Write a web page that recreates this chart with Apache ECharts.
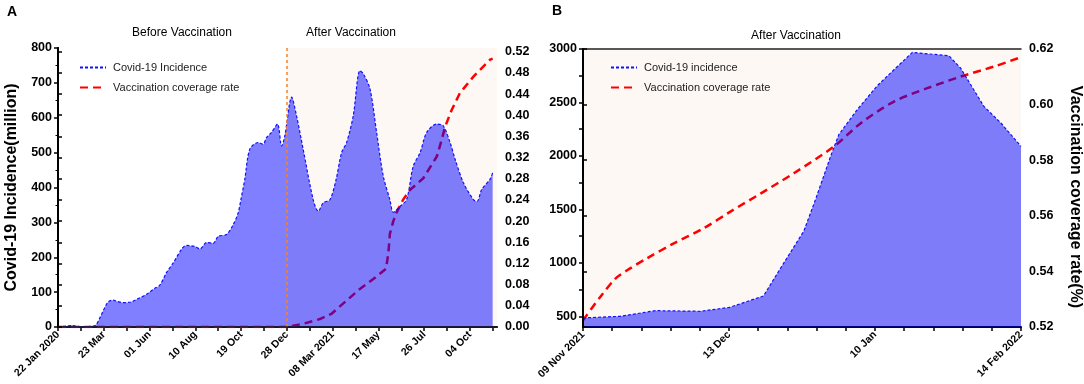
<!DOCTYPE html>
<html>
<head>
<meta charset="utf-8">
<script src="https://cdn.jsdelivr.net/npm/echarts@6/dist/echarts.min.js"></script>
<style>
  html, body { margin: 0; padding: 0; background: #fff; }
  #chart { width: 1084px; height: 384px; }
</style>
</head>
<body>
<div id="chart"></div>
<script>
// x positions are in tick units (one tick on each date axis = 1)
const tickPosA = [0, 2, 4, 6, 8, 10, 12, 14, 16, 18];
const tickLabelsA = ['22 Jan 2020', '23 Mar', '01 Jun', '10 Aug', '19 Oct', '28 Dec', '08 Mar 2021', '17 May', '26 Jul', '04 Oct'];
const tickAllA = [0, 1, 2, 3, 4, 5, 6, 7, 8, 9, 10, 11, 12, 13, 14, 15, 16, 17, 18, 19];
const tickPosB = [0, 5, 10, 15];
const tickLabelsB = ['09 Nov 2021', '13 Dec', '10 Jan', '14 Feb 2022'];
const tickAllB = [0, 1, 2, 3, 4, 5, 6, 7, 8, 9, 10, 11, 12, 13, 14, 15];

const rightTicksA = [0, 0.04, 0.08, 0.12, 0.16, 0.2, 0.24, 0.28, 0.32, 0.36, 0.4, 0.44, 0.48, 0.52];
const leftLabelsB = [500, 1000, 1500, 2000, 2500, 3000];
const leftTicksB = [500, 750, 1000, 1250, 1500, 1750, 2000, 2250, 2500, 2750, 3000];

// panel A
const incidenceAX = [0, 0.29, 0.6, 0.86, 1.17, 1.47, 1.65, 1.82, 2.0, 2.19, 2.4, 2.61, 2.84, 3.13, 3.43, 3.87, 4.23, 4.45, 4.74, 5.03, 5.4, 5.61, 5.98, 6.2, 6.49, 6.78, 7.0, 7.36, 7.65, 7.87, 7.99, 8.16, 8.38, 8.75, 8.96, 9.11, 9.33, 9.59, 9.77, 9.91, 10.21, 10.42, 10.71, 11.15, 11.37, 11.59, 11.88, 12.14, 12.39, 12.61, 12.9, 13.19, 13.34, 13.63, 13.92, 14.21, 14.5, 14.65, 14.94, 15.23, 15.52, 15.82, 16.11, 16.55, 16.83, 17.13, 17.35, 17.71, 18.15, 18.31, 18.51, 18.87, 18.99];
const incidenceAY = [0, 2, 4, 2, 1, 2, 5, 25, 50, 72, 77, 73, 70, 71, 79, 94, 111, 120, 156, 183, 223, 234, 231, 224, 242, 240, 260, 265, 293, 327, 365, 423, 510, 529, 524, 543, 558, 582, 519, 548, 659, 606, 510, 365, 332, 356, 365, 420, 500, 529, 606, 735, 726, 683, 558, 433, 365, 329, 346, 365, 461, 500, 558, 582, 577, 529, 481, 414, 365, 360, 394, 423, 442];
const vaccinationAX = [0, 10, 10.71, 11.44, 11.95, 12.61, 13.19, 13.85, 14.33, 14.43, 14.5, 14.65, 14.8, 15.07, 15.38, 15.96, 16.55, 16.76, 16.91, 17.2, 17.56, 18.15, 18.88, 18.99];
const vaccinationAY = [0, 0, 0.006, 0.015, 0.025, 0.05, 0.072, 0.093, 0.11, 0.138, 0.176, 0.2, 0.217, 0.24, 0.259, 0.281, 0.322, 0.353, 0.378, 0.41, 0.442, 0.473, 0.505, 0.507];

// panel B
const incidenceBX = [0, 1.28, 2.48, 4.02, 5.01, 6.18, 6.88, 7.56, 7.96, 8.48, 8.76, 9.39, 10.08, 10.65, 11.28, 12.53, 12.93, 13.73, 14.31, 15];
const incidenceBY = [485, 500, 553, 547, 583, 690, 1000, 1295, 1590, 1996, 2199, 2432, 2657, 2806, 2968, 2937, 2822, 2463, 2308, 2089];
const vaccinationBX = [0, 0.59, 1.11, 1.51, 2.19, 3.11, 4.13, 5.05, 6.08, 7.22, 8.59, 9.51, 10.65, 11.79, 12.94, 14.08, 14.93];
const vaccinationBY = [0.5224, 0.5308, 0.5374, 0.5404, 0.5447, 0.5501, 0.5555, 0.5615, 0.568, 0.5753, 0.5849, 0.5933, 0.6011, 0.6059, 0.6101, 0.6137, 0.6168];

const zip = (xs, ys) => xs.map((x, i) => [x, ys[i]]);

const FONT = 'Liberation Sans, Arial, sans-serif';
const CREAM = '#fdf8f3';
const incidenceLine = { color: '#1010ff', width: 1.2, type: [3, 2] };
const incidenceArea = { color: 'rgba(0, 0, 255, 0.5)', opacity: 1 };
const vaccLine = { color: '#ff0000', width: 2.5, type: [8, 5] };

function bottomAxis(grid, max, ticks, labelPos, labels) {
  return {
    gridIndex: grid, type: 'value', min: 0, max: max, z: 2,
    axisLine: { lineStyle: { color: '#000', width: 2 } },
    axisTick: { customValues: ticks, length: 4, lineStyle: { color: '#000', width: 1.5 } },
    axisLabel: {
      customValues: labelPos, rotate: 45, margin: 6,
      fontFamily: FONT, fontWeight: 'bold', fontSize: 10.5, color: '#000',
      formatter: v => labels[labelPos.indexOf(v)] || ''
    },
    splitLine: { show: false }
  };
}

function topAxis(grid, max) {
  return {
    gridIndex: grid, type: 'value', position: 'top', min: 0, max: max, z: 5,
    axisLine: { lineStyle: { color: '#222', width: 1.5 } },
    axisTick: { show: false }, axisLabel: { show: false }, splitLine: { show: false }
  };
}

function legendAt(left, names) {
  return {
    left: left, top: 57, orient: 'vertical', itemWidth: 26, itemHeight: 10, itemGap: 9,
    data: names,
    itemStyle: { opacity: 0 },
    textStyle: { fontFamily: FONT, fontSize: 11, color: '#222', padding: [0, 0, 0, 2] }
  };
}

const labelStyle = { fontFamily: FONT, fontWeight: 'bold', fontSize: 12.5, color: '#000' };
const nameStyle = { fontFamily: FONT, fontWeight: 'bold', fontSize: 16, color: '#000' };

const option = {
  animation: false,
  backgroundColor: '#fff',
  grid: [
    { left: 58, right: 587, top: 48, bottom: 57 },
    { left: 583, right: 63, top: 49, bottom: 57 }
  ],
  legend: [
    legendAt(74, ['Covid-19 Incidence', 'Vaccination coverage rate']),
    legendAt(605, ['Covid-19 incidence', 'Vaccination coverage rate'])
  ],
  xAxis: [
    bottomAxis(0, 19.18, tickAllA, tickPosA, tickLabelsA),
    topAxis(0, 19.18),
    bottomAxis(1, 15, tickAllB, tickPosB, tickLabelsB),
    topAxis(1, 15)
  ],
  yAxis: [
    {
      gridIndex: 0, type: 'value', position: 'left', min: 0, max: 800, interval: 100, z: 5,
      axisLine: { show: true, lineStyle: { color: '#000', width: 2 } },
      axisTick: { show: true, length: 4, lineStyle: { color: '#000', width: 1.5 } },
      minorTick: { show: true, splitNumber: 2, length: 2.5, lineStyle: { color: '#000', width: 1 } },
      axisLabel: Object.assign({ margin: 6 }, labelStyle),
      splitLine: { show: false },
      name: 'Covid-19 Incidence(million)', nameLocation: 'middle', nameGap: 38,
      nameTextStyle: nameStyle
    },
    {
      gridIndex: 0, type: 'value', position: 'right', min: 0, max: 0.527, z: 5,
      axisLine: { show: true, lineStyle: { color: '#000', width: 2 } },
      axisTick: { show: true, customValues: rightTicksA, length: 4, lineStyle: { color: '#000', width: 1.5 } },
      axisLabel: Object.assign({ margin: 8, customValues: rightTicksA, formatter: v => v.toFixed(2) }, labelStyle),
      splitLine: { show: false }
    },
    {
      gridIndex: 1, type: 'value', position: 'left', min: 400, max: 3000, z: 5,
      axisLine: { show: true, lineStyle: { color: '#000', width: 2 } },
      axisTick: { show: true, customValues: leftTicksB, length: 4, lineStyle: { color: '#000', width: 1.5 } },
      axisLabel: Object.assign({ margin: 6, customValues: leftLabelsB, formatter: v => String(v) }, labelStyle),
      splitLine: { show: false }
    },
    {
      gridIndex: 1, type: 'value', position: 'right', min: 0.52, max: 0.62, interval: 0.02, z: 5,
      axisLine: { show: true, lineStyle: { color: '#000', width: 2 } },
      axisTick: { show: true, length: 4, lineStyle: { color: '#000', width: 1.5 } },
      axisLabel: Object.assign({ margin: 8, formatter: v => v.toFixed(2) }, labelStyle),
      splitLine: { show: false },
      name: 'Vaccination coverage rate(%)', nameLocation: 'middle', nameGap: 46, nameRotate: -90,
      nameTextStyle: Object.assign({ padding: [0, 0, 0, 18] }, nameStyle)
    }
  ],
  series: [
    {
      name: 'bgA', type: 'line', xAxisIndex: 0, yAxisIndex: 0, z: 1, silent: true,
      data: [], symbol: 'none',
      markArea: { silent: true, itemStyle: { color: CREAM }, data: [[{ xAxis: 10 }, { xAxis: 19.18 }]] },
      markLine: {
        silent: true, symbol: ['none', 'none'], label: { show: false },
        lineStyle: { color: '#f5822a', width: 1.5, type: [3, 3] },
        data: [{ xAxis: 10 }]
      }
    },
    {
      name: 'bgB', type: 'line', xAxisIndex: 2, yAxisIndex: 2, z: 1, silent: true,
      data: [], symbol: 'none',
      markArea: { silent: true, itemStyle: { color: CREAM }, data: [[{ xAxis: 0 }, { xAxis: 15 }]] }
    },
    {
      name: 'Vaccination coverage rate', type: 'line', xAxisIndex: 0, yAxisIndex: 1, z: 3,
      symbol: 'none', lineStyle: vaccLine, itemStyle: { color: '#ff0000' },
      data: zip(vaccinationAX, vaccinationAY)
    },
    {
      name: 'Covid-19 Incidence', type: 'line', xAxisIndex: 0, yAxisIndex: 0, z: 4,
      symbol: 'none', smooth: 0.3, lineStyle: incidenceLine, itemStyle: { color: '#1010ff' },
      areaStyle: incidenceArea,
      data: zip(incidenceAX, incidenceAY)
    },
    {
      name: 'Vaccination coverage rate', type: 'line', xAxisIndex: 2, yAxisIndex: 3, z: 3,
      symbol: 'none', smooth: 0.3, lineStyle: vaccLine, itemStyle: { color: '#ff0000' },
      data: zip(vaccinationBX, vaccinationBY)
    },
    {
      name: 'Covid-19 incidence', type: 'line', xAxisIndex: 2, yAxisIndex: 2, z: 4,
      symbol: 'none', lineStyle: incidenceLine, itemStyle: { color: '#1010ff' },
      areaStyle: incidenceArea,
      data: zip(incidenceBX, incidenceBY)
    }
  ],
  graphic: [
    { type: 'text', x: 12, y: 12, style: { text: 'A', font: 'bold 14px ' + FONT, fill: '#000', align: 'center', verticalAlign: 'middle' } },
    { type: 'text', x: 557, y: 11, style: { text: 'B', font: 'bold 14px ' + FONT, fill: '#000', align: 'center', verticalAlign: 'middle' } },
    { type: 'text', x: 182, y: 33, style: { text: 'Before Vaccination', font: '12px ' + FONT, fill: '#000', align: 'center', verticalAlign: 'middle' } },
    { type: 'text', x: 351, y: 33, style: { text: 'After Vaccination', font: '12px ' + FONT, fill: '#000', align: 'center', verticalAlign: 'middle' } },
    { type: 'text', x: 796, y: 36, style: { text: 'After Vaccination', font: '12px ' + FONT, fill: '#000', align: 'center', verticalAlign: 'middle' } }
  ]
};

const chart = echarts.init(document.getElementById('chart'));
chart.setOption(option);
</script>
</body>
</html>
